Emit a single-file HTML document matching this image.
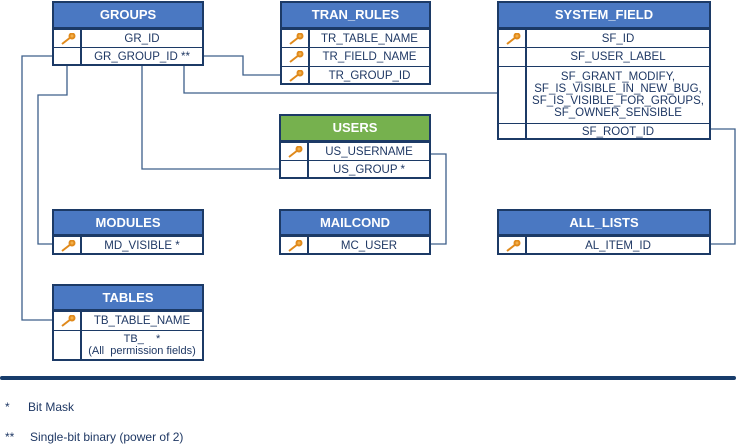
<!DOCTYPE html>
<html><head><meta charset="utf-8"><style>
body{margin:0;width:736px;height:448px;background:#fff;position:relative;overflow:hidden;font-family:"Liberation Sans",sans-serif;}
.t{position:absolute;border:2px solid #1c3a66;box-sizing:border-box;background:#fff;}
.h{background:#4a78c2;color:#fff;font-weight:bold;font-size:13px;text-align:center;border-bottom:2px solid #1c3a66;box-sizing:border-box;}
.g{background:#76b14e;}
.r{display:flex;border-top:1px solid #1c3a66;font-size:11.5px;color:#1f3864;box-sizing:border-box;}
.r:first-of-type{border-top:none}
.k{width:26px;border-right:2px solid #1c3a66;flex:none;position:relative;}
.v{flex:1;text-align:center;display:flex;align-items:center;justify-content:center;line-height:12px;}
.key{position:absolute;left:6px;top:3px;}
svg.l{position:absolute;left:0;top:0}
.fn{position:absolute;font-size:12px;color:#1f3864;}
</style></head><body>
<svg class="l" width="736" height="448">
<g fill="none" stroke="#3d5f8a" stroke-width="1.3">
<polyline points="203,56 243,56 243,75 280,75"/>
<polyline points="184,64 184,93 497,93"/>
<polyline points="142,64 142,169 279,169"/>
<polyline points="52,56 22,56 22,320 52,320"/>
<polyline points="67,64 67,95 38,95 38,244 52,244"/>
<polyline points="430,154 446,154 446,244 430,244"/>
<polyline points="710,129 735,129 735,244 710,244"/>
</g>
<rect x="0" y="376" width="736" height="4" rx="2" fill="#173c6b"/>
</svg>

<div class="t" style="left:52px;top:1px;width:152px;height:65px">
<div class="h" style="height:26px;line-height:24px">GROUPS</div>
<div class="r" style="height:18px"><div class="k"><svg class="key" width="16" height="12"><g stroke="#e08a1c" stroke-width="2" fill="none"><line x1="2" y1="11" x2="11" y2="4"/><circle cx="12" cy="3" r="2.5" fill="#f3b04a"/></g></svg></div><div class="v">GR_ID</div></div>
<div class="r" style="height:19px"><div class="k"></div><div class="v">GR_GROUP_ID **</div></div>
</div>

<div class="t" style="left:280px;top:1px;width:151px;height:84px">
<div class="h" style="height:26px;line-height:24px">TRAN_RULES</div>
<div class="r" style="height:18px"><div class="k"><svg class="key" width="16" height="12"><g stroke="#e08a1c" stroke-width="2" fill="none"><line x1="2" y1="11" x2="11" y2="4"/><circle cx="12" cy="3" r="2.5" fill="#f3b04a"/></g></svg></div><div class="v">TR_TABLE_NAME</div></div>
<div class="r" style="height:19px"><div class="k"><svg class="key" width="16" height="12"><g stroke="#e08a1c" stroke-width="2" fill="none"><line x1="2" y1="11" x2="11" y2="4"/><circle cx="12" cy="3" r="2.5" fill="#f3b04a"/></g></svg></div><div class="v">TR_FIELD_NAME</div></div>
<div class="r" style="height:19px"><div class="k"><svg class="key" width="16" height="12"><g stroke="#e08a1c" stroke-width="2" fill="none"><line x1="2" y1="11" x2="11" y2="4"/><circle cx="12" cy="3" r="2.5" fill="#f3b04a"/></g></svg></div><div class="v">TR_GROUP_ID</div></div>
</div>

<div class="t" style="left:497px;top:1px;width:214px;height:139px">
<div class="h" style="height:26px;line-height:24px">SYSTEM_FIELD</div>
<div class="r" style="height:18px"><div class="k"><svg class="key" width="16" height="12"><g stroke="#e08a1c" stroke-width="2" fill="none"><line x1="2" y1="11" x2="11" y2="4"/><circle cx="12" cy="3" r="2.5" fill="#f3b04a"/></g></svg></div><div class="v">SF_ID</div></div>
<div class="r" style="height:19px"><div class="k"></div><div class="v">SF_USER_LABEL</div></div>
<div class="r" style="height:57px"><div class="k"></div><div class="v">SF_GRANT_MODIFY,<br>SF_IS_VISIBLE_IN_NEW_BUG,<br>SF_IS_VISIBLE_FOR_GROUPS,<br>SF_OWNER_SENSIBLE</div></div>
<div class="r" style="height:17px"><div class="k"></div><div class="v">SF_ROOT_ID</div></div>
</div>

<div class="t" style="left:279px;top:114px;width:152px;height:65px">
<div class="h g" style="height:26px;line-height:24px">USERS</div>
<div class="r" style="height:18px"><div class="k"><svg class="key" width="16" height="12"><g stroke="#e08a1c" stroke-width="2" fill="none"><line x1="2" y1="11" x2="11" y2="4"/><circle cx="12" cy="3" r="2.5" fill="#f3b04a"/></g></svg></div><div class="v">US_USERNAME</div></div>
<div class="r" style="height:19px"><div class="k"></div><div class="v">US_GROUP *</div></div>
</div>

<div class="t" style="left:52px;top:209px;width:152px;height:46px">
<div class="h" style="height:25px;line-height:23px">MODULES</div>
<div class="r" style="height:19px"><div class="k"><svg class="key" width="16" height="12"><g stroke="#e08a1c" stroke-width="2" fill="none"><line x1="2" y1="11" x2="11" y2="4"/><circle cx="12" cy="3" r="2.5" fill="#f3b04a"/></g></svg></div><div class="v">MD_VISIBLE *</div></div>
</div>

<div class="t" style="left:279px;top:209px;width:152px;height:46px">
<div class="h" style="height:25px;line-height:23px">MAILCOND</div>
<div class="r" style="height:19px"><div class="k"><svg class="key" width="16" height="12"><g stroke="#e08a1c" stroke-width="2" fill="none"><line x1="2" y1="11" x2="11" y2="4"/><circle cx="12" cy="3" r="2.5" fill="#f3b04a"/></g></svg></div><div class="v">MC_USER</div></div>
</div>

<div class="t" style="left:497px;top:209px;width:214px;height:46px">
<div class="h" style="height:25px;line-height:23px">ALL_LISTS</div>
<div class="r" style="height:19px"><div class="k"><svg class="key" width="16" height="12"><g stroke="#e08a1c" stroke-width="2" fill="none"><line x1="2" y1="11" x2="11" y2="4"/><circle cx="12" cy="3" r="2.5" fill="#f3b04a"/></g></svg></div><div class="v">AL_ITEM_ID</div></div>
</div>

<div class="t" style="left:52px;top:284px;width:152px;height:77px">
<div class="h" style="height:25px;line-height:23px">TABLES</div>
<div class="r" style="height:19px"><div class="k"><svg class="key" width="16" height="12"><g stroke="#e08a1c" stroke-width="2" fill="none"><line x1="2" y1="11" x2="11" y2="4"/><circle cx="12" cy="3" r="2.5" fill="#f3b04a"/></g></svg></div><div class="v">TB_TABLE_NAME</div></div>
<div class="r" style="height:29px"><div class="k"></div><div class="v" style="font-size:11px">TB_&nbsp;&nbsp;&nbsp;&nbsp;*<br>(All&nbsp; permission fields)</div></div>
</div>

<div class="fn" style="left:5px;top:400px">*</div>
<div class="fn" style="left:28px;top:400px">Bit Mask</div>
<div class="fn" style="left:5px;top:430px">**</div>
<div class="fn" style="left:30px;top:430px">Single-bit binary (power of 2)</div>
</body></html>
